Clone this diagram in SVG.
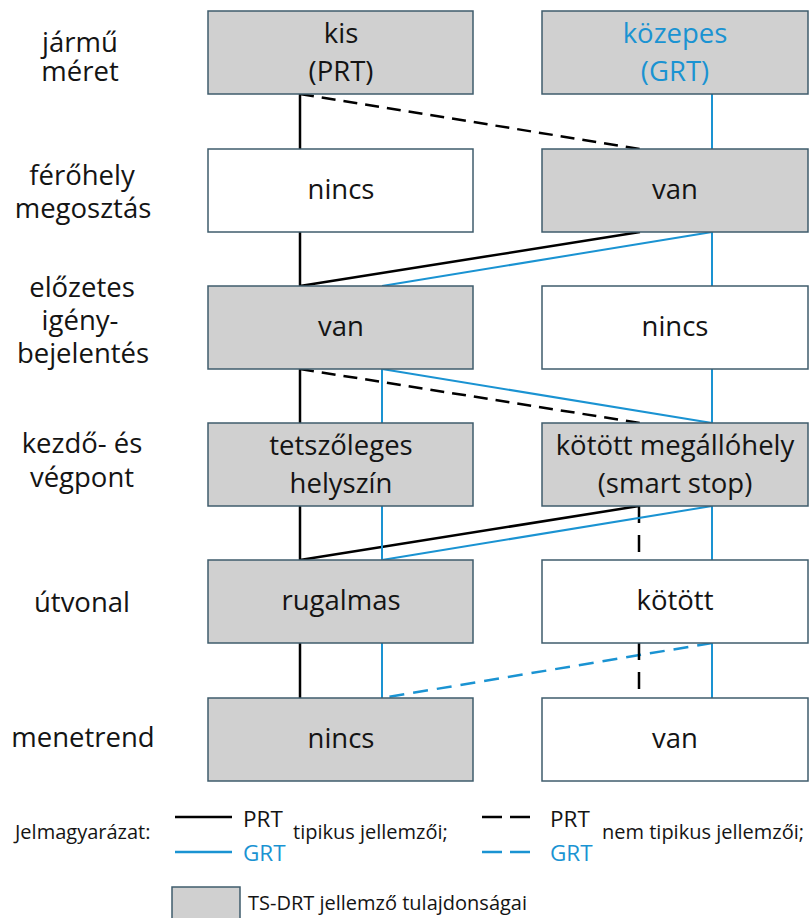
<svg xmlns="http://www.w3.org/2000/svg" width="810" height="918" viewBox="0 0 810 918">
<style>
text{font-family:"Open Sans","Noto Sans","Liberation Sans",sans-serif;fill:#141414}
.lbl{font-size:27.5px;text-anchor:middle}
.bx{font-size:27.5px;text-anchor:middle}
.blue{fill:#1a93d2}
.g{fill:#d0d0d0;stroke:#3f5c6c;stroke-width:1.5}
.w{fill:#ffffff;stroke:#3f5c6c;stroke-width:1.5}
.k{fill:none;stroke:#000;stroke-width:2.5}
.kd{fill:none;stroke:#000;stroke-width:2.5;stroke-dasharray:14 8}
.kv{fill:none;stroke:#000;stroke-width:2.5;stroke-dasharray:17 12}
.b{fill:none;stroke:#1a93d2;stroke-width:2}
.bd{fill:none;stroke:#1a93d2;stroke-width:2.5;stroke-dasharray:15 9}
.lg{font-size:20px}
.lgp{font-size:22.5px}
</style>
<rect width="810" height="918" fill="#ffffff"/>

<g id="row-labels">
<text class="lbl" x="80" y="52">jármű</text>
<text class="lbl" x="80" y="81">méret</text>
<text class="lbl" x="82" y="185">férőhely</text>
<text class="lbl" x="83" y="218">megosztás</text>
<text class="lbl" x="82" y="297">előzetes</text>
<text class="lbl" x="80" y="330">igény-</text>
<text class="lbl" x="83" y="363">bejelentés</text>
<text class="lbl" x="82" y="453">kezdő- és</text>
<text class="lbl" x="82" y="487">végpont</text>
<text class="lbl" x="82" y="612">útvonal</text>
<text class="lbl" x="83" y="747">menetrend</text>
</g>

<g id="connectors">
<path class="k" d="M300 94V149"/>
<path class="kd" d="M300 94L640 149"/>
<path class="b" d="M712 94V149"/>
<path class="k" d="M300 232V286"/>
<path class="k" d="M640 232L300 286"/>
<path class="b" d="M712 232L382 286"/>
<path class="b" d="M712 232V286"/>
<path class="k" d="M300 369V423"/>
<path class="kd" d="M300 369L640 423"/>
<path class="b" d="M382 369V423"/>
<path class="b" d="M382 369L712 423"/>
<path class="b" d="M712 369V423"/>
<path class="k" d="M300 506V560"/>
<path class="k" d="M639 506L300 560"/>
<path class="kv" d="M639 506V560"/>
<path class="b" d="M712 506L382 560"/>
<path class="b" d="M382 506V560"/>
<path class="b" d="M712 506V560"/>
<path class="k" d="M300 643V698"/>
<path class="b" d="M382 643V698"/>
<path class="bd" d="M712 643L382 698"/>
<path class="kv" d="M639 643V698"/>
<path class="b" d="M712 643V698"/>
</g>

<g id="n-kis"><rect class="g" x="208" y="11" width="265" height="83"/><text class="bx" x="341" y="43">kis</text><text class="bx" x="341" y="81">(PRT)</text></g>
<g id="n-kozepes"><rect class="g" x="542" y="11" width="266" height="83"/><text class="bx blue" x="675" y="43">közepes</text><text class="bx blue" x="675" y="81">(GRT)</text></g>

<g id="n-ferohely-nincs"><rect class="w" x="208" y="149" width="265" height="83"/><text class="bx" x="341" y="199">nincs</text></g>
<g id="n-ferohely-van"><rect class="g" x="542" y="149" width="266" height="83"/><text class="bx" x="675" y="199">van</text></g>

<g id="n-igeny-van"><rect class="g" x="208" y="286" width="265" height="83"/><text class="bx" x="341" y="336">van</text></g>
<g id="n-igeny-nincs"><rect class="w" x="542" y="286" width="266" height="83"/><text class="bx" x="675" y="336">nincs</text></g>

<g id="n-tetszoleges"><rect class="g" x="208" y="423" width="265" height="83"/><text class="bx" x="341" y="455">tetszőleges</text><text class="bx" x="341" y="493">helyszín</text></g>
<g id="n-kotott-megallo"><rect class="g" x="542" y="423" width="266" height="83"/><text class="bx" x="675" y="455">kötött megállóhely</text><text class="bx" x="675" y="493">(smart stop)</text></g>

<g id="n-rugalmas"><rect class="g" x="208" y="560" width="265" height="83"/><text class="bx" x="341" y="610">rugalmas</text></g>
<g id="n-kotott"><rect class="w" x="542" y="560" width="266" height="83"/><text class="bx" x="675" y="610">kötött</text></g>

<g id="n-menetrend-nincs"><rect class="g" x="208" y="698" width="265" height="83"/><text class="bx" x="341" y="748">nincs</text></g>
<g id="n-menetrend-van"><rect class="w" x="542" y="698" width="266" height="83"/><text class="bx" x="675" y="748">van</text></g>

<g id="legend">
<text class="lg" x="15" y="839">Jelmagyarázat:</text>
<path class="k" d="M175 817H232"/>
<path class="b" d="M175 852H232" style="stroke-width:2.5"/>
<text class="lgp" x="243" y="827">PRT</text>
<text class="lgp blue" x="243" y="861">GRT</text>
<text class="lg" x="293" y="839">tipikus jellemzői;</text>
<path class="k" d="M482 817H530" style="stroke-dasharray:20 8"/>
<path class="b" d="M482 852H530" style="stroke-dasharray:20 8;stroke-width:2.5"/>
<text class="lgp" x="550" y="827">PRT</text>
<text class="lgp blue" x="550" y="861">GRT</text>
<text class="lg" x="602" y="839">nem tipikus jellemzői;</text>
<rect class="g" x="172" y="887" width="68" height="40"/>
<text class="lg" x="248" y="910">TS-DRT jellemző tulajdonságai</text>
</g>
</svg>
